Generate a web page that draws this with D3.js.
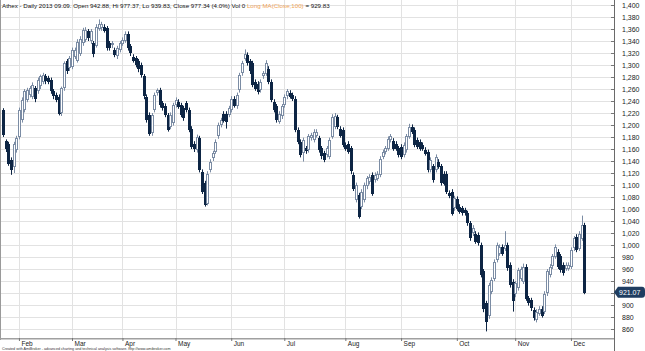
<!DOCTYPE html>
<html>
<head>
<meta charset="utf-8">
<script src="https://cdn.jsdelivr.net/npm/d3@7"></script>
<style>
  html, body { margin: 0; padding: 0; background: #fff; }
  svg { display: block; font-family: Arial, "Liberation Sans", sans-serif; }
</style>
</head>
<body>
<div id="chart"></div>
<script>
// daily candles, 24 Jan 2013 -> 9 Dec 2013
const open = [
  1225,1173,1169,1142,1131,1158,1180,1208,1225,1242,
  1250,1247,1261,1256,1264,1272,1281,1278,1275,1256,
  1250,1247,1219,1261,1306,1294,1297,1314,1308,1319,
  1336,1342,1356,1339,1336,1333,1361,1361,1364,1361,
  1336,1333,1325,1314,1325,1336,1341,1352,1331,1314,
  1311,1306,1300,1281,1247,1217,1186,1225,1253,1258,
  1236,1232,1217,1197,1203,1233,1239,1233,1228,1236,
  1225,1194,1169,1158,1178,1122,1103,1069,1125,1144,
  1156,1181,1200,1219,1219,1217,1225,1244,1231,1258,
  1286,1311,1317,1306,1303,1272,1269,1258,1281,1286,
  1294,1272,1239,1231,1206,1214,1233,1247,1254,1250,
  1244,1192,1172,1153,1161,1158,1178,1175,1183,1178,
  1161,1153,1150,1147,1181,1197,1213,1194,1192,1167,
  1169,1161,1117,1075,1083,1064,1075,1097,1105,1117,
  1108,1111,1117,1147,1155,1161,1175,1174,1169,1161,
  1164,1150,1158,1181,1197,1192,1175,1172,1167,1159,
  1155,1125,1131,1125,1139,1131,1119,1119,1087,1089,
  1061,1077,1064,1061,1058,1053,1036,1019,1019,1017,
  1000,956,903,881,922,944,975,986,997,994,
  1000,967,939,917,928,944,939,964,911,908,
  892,875,886,894,889,919,950,964,981,989,
  981,967,961,961,964,994,1014,994,1011,1034
];
const high = [
  1228,1176,1172,1146,1172,1182,1229,1246,1260,1262,
  1265,1271,1265,1279,1284,1287,1285,1282,1279,1260,
  1254,1251,1264,1306,1310,1315,1329,1329,1343,1348,
  1362,1363,1360,1360,1340,1368,1376,1372,1368,1365,
  1340,1340,1329,1332,1340,1346,1356,1356,1335,1318,
  1315,1310,1304,1285,1251,1221,1220,1254,1261,1262,
  1240,1236,1220,1221,1237,1246,1243,1237,1232,1240,
  1229,1198,1173,1184,1182,1126,1107,1123,1143,1157,
  1176,1204,1212,1223,1223,1232,1248,1248,1254,1287,
  1307,1326,1321,1310,1307,1276,1273,1276,1290,1308,
  1298,1276,1243,1235,1223,1235,1251,1260,1258,1254,
  1248,1196,1176,1179,1165,1185,1187,1193,1193,1182,
  1165,1157,1165,1179,1218,1220,1217,1198,1196,1171,
  1173,1165,1121,1104,1087,1093,1104,1115,1118,1121,
  1121,1123,1148,1159,1165,1181,1185,1178,1173,1165,
  1168,1171,1185,1202,1201,1196,1179,1176,1171,1163,
  1159,1146,1135,1151,1143,1135,1123,1123,1091,1093,
  1082,1081,1068,1065,1062,1057,1040,1033,1023,1021,
  1004,960,907,937,946,976,1004,1001,1001,1023,
  1004,971,943,940,962,964,969,968,915,912,
  896,893,898,898,923,960,968,985,1001,993,
  985,971,971,971,996,1015,1018,1023,1049,1037
];
const low = [
  1180,1155,1132,1117,1120,1154,1176,1204,1221,1238,
  1246,1243,1238,1252,1260,1268,1268,1268,1252,1243,
  1238,1216,1215,1257,1285,1290,1293,1310,1304,1315,
  1332,1338,1340,1335,1313,1329,1357,1357,1354,1324,
  1324,1328,1313,1310,1321,1332,1337,1324,1315,1304,
  1296,1288,1279,1243,1204,1182,1182,1221,1249,1229,
  1224,1213,1189,1193,1199,1229,1227,1213,1207,1221,
  1188,1160,1155,1154,1121,1085,1064,1066,1121,1140,
  1152,1177,1196,1204,1194,1213,1221,1229,1227,1254,
  1282,1307,1299,1285,1263,1257,1251,1254,1277,1282,
  1268,1238,1221,1204,1202,1210,1229,1243,1244,1240,
  1188,1168,1146,1139,1152,1154,1174,1171,1179,1154,
  1143,1138,1146,1143,1177,1193,1193,1179,1163,1157,
  1152,1118,1090,1071,1044,1060,1071,1093,1101,1082,
  1104,1107,1113,1143,1151,1157,1171,1157,1157,1146,
  1143,1146,1154,1177,1185,1163,1160,1157,1157,1149,
  1121,1121,1104,1121,1127,1099,1099,1085,1078,1049,
  1057,1057,1052,1049,1049,1032,1007,1015,1002,999,
  946,888,856,877,918,940,971,982,982,990,
  957,929,889,913,924,940,935,907,899,890,
  874,871,882,879,885,915,946,960,977,960,
  954,949,957,957,960,990,988,990,1007,918
];
const close = [
  1183,1159,1136,1125,1169,1178,1225,1242,1256,1258,
  1261,1267,1242,1275,1281,1283,1272,1272,1256,1247,
  1242,1219,1261,1303,1289,1311,1325,1325,1339,1344,
  1358,1358,1344,1356,1317,1364,1369,1368,1358,1328,
  1328,1336,1317,1328,1336,1342,1352,1328,1319,1308,
  1300,1292,1283,1247,1208,1186,1216,1250,1258,1233,
  1228,1217,1192,1217,1233,1242,1231,1217,1211,1225,
  1192,1164,1161,1180,1125,1089,1067,1119,1139,1153,
  1172,1200,1208,1208,1206,1228,1244,1233,1250,1283,
  1303,1319,1303,1289,1267,1261,1255,1272,1286,1304,
  1272,1242,1225,1208,1219,1231,1247,1256,1248,1244,
  1192,1172,1150,1175,1156,1181,1183,1189,1189,1158,
  1147,1142,1161,1175,1214,1215,1197,1183,1167,1161,
  1156,1122,1094,1100,1047,1089,1100,1111,1114,1086,
  1117,1119,1144,1155,1161,1177,1181,1161,1161,1150,
  1147,1167,1181,1197,1189,1167,1164,1161,1161,1153,
  1125,1142,1108,1147,1131,1103,1103,1089,1082,1053,
  1078,1061,1056,1053,1053,1036,1011,1028,1006,1003,
  950,892,872,933,942,972,1000,997,986,1000,
  961,933,908,936,958,960,964,911,903,894,
  878,889,894,883,919,956,964,981,997,964,
  958,953,967,967,992,1011,992,1019,1034,921.07
];

// first trading day of each month (index into the series) and its label
const monthStart = [6, 26, 45, 65, 86, 106, 129, 150, 171, 193, 214];
const monthLabels = ["Feb", "Mar", "Apr", "May", "Jun", "Jul", "Aug", "Sep", "Oct", "Nov", "Dec"];

const priceTicks = [860, 880, 900, 920, 940, 960, 980, 1000, 1020, 1040, 1060, 1080, 1100,
  1120, 1140, 1160, 1180, 1200, 1220, 1240, 1260, 1280, 1300, 1320, 1340, 1360, 1380, 1400];

const lastPrice = 921.07;
const titleText = "Athex - Daily 2013 09.09.  Open 942.88, Hi 977.37, Lo 939.83, Close 977.34 (4.0%) Vol 0 ";
const maText = "Long MA(Close,100)";
const maValue = " = 929.83";
const footerText = "Created with AmiBroker - advanced charting and technical analysis software. http://www.amibroker.com";

const width = 645, height = 351;
const plotRight = 614, plotBottom = 338;

const svg = d3.select("#chart").append("svg")
  .attr("width", width)
  .attr("height", height);

const x = d3.scaleLinear()
  .domain([0, close.length - 1])
  .range([3, 584.2]);

const y = d3.scaleLinear()
  .domain([1000, 1400])
  .range([245, 5]);

const ly = y(lastPrice);

// grid
svg.append("g")
  .selectAll("line")
  .data(priceTicks).enter().append("line")
  .attr("x1", 1).attr("x2", plotRight)
  .attr("y1", d => Math.round(y(d)) + 0.5)
  .attr("y2", d => Math.round(y(d)) + 0.5)
  .attr("stroke", "#e2e2e2");

svg.append("g")
  .selectAll("line")
  .data(monthStart).enter().append("line")
  .attr("x1", d => Math.round(x(d)) + 0.5)
  .attr("x2", d => Math.round(x(d)) + 0.5)
  .attr("y1", 0).attr("y2", plotBottom)
  .attr("stroke", "#e2e2e2");

// frame
svg.append("line")
  .attr("x1", 0.5).attr("x2", 0.5).attr("y1", 0).attr("y2", plotBottom + 2)
  .attr("stroke", "#9a9a9a");
svg.append("line")
  .attr("x1", 0).attr("x2", plotRight).attr("y1", plotBottom + 0.75).attr("y2", plotBottom + 0.75)
  .attr("stroke", "#a0a0a0").attr("stroke-width", 1.5);
svg.append("line")
  .attr("x1", plotRight + 0.5).attr("x2", plotRight + 0.5).attr("y1", 0).attr("y2", height)
  .attr("stroke", "#6a6a6a");

// y axis (right)
const yAxis = svg.append("g")
  .attr("transform", `translate(${plotRight},0)`)
  .call(d3.axisRight(y).tickValues(priceTicks).tickFormat(d3.format(",")).tickSize(-3).tickPadding(8));
yAxis.select(".domain").remove();
yAxis.selectAll(".tick line").attr("stroke", "#777");
yAxis.selectAll("text").attr("fill", "#222").style("font-size", "7px");
// the last-price marker hides the label it sits on
yAxis.selectAll(".tick").filter(d => Math.abs(y(d) - ly) < 7).select("text").remove();

// x axis (months)
const xAxis = svg.append("g")
  .attr("transform", `translate(0,${plotBottom})`)
  .call(d3.axisBottom(x).tickValues(monthStart).tickFormat((d, i) => monthLabels[i]).tickSize(3));
xAxis.select(".domain").remove();
xAxis.selectAll(".tick line").attr("stroke", "#777");
xAxis.selectAll("text")
  .attr("fill", "#222")
  .attr("text-anchor", "start")
  .attr("x", 2).attr("y", 7.6).attr("dy", 0)
  .style("font-size", "6.5px");

// candles
const upColor = "#7b8ca4", downColor = "#0d2544";
const candles = svg.append("g").selectAll("g")
  .data(close.map((c, i) => ({ i, o: open[i], h: high[i], l: low[i], c })))
  .enter().append("g");

candles.append("line")
  .attr("x1", d => Math.round(x(d.i)) + 0.5)
  .attr("x2", d => Math.round(x(d.i)) + 0.5)
  .attr("y1", d => y(d.h))
  .attr("y2", d => y(d.l))
  .attr("stroke", d => d.c >= d.o ? upColor : downColor);

candles.append("rect")
  .attr("x", d => Math.round(x(d.i)) - 0.5)
  .attr("width", 2)
  .attr("y", d => Math.round(y(Math.max(d.o, d.c))) + 0.5)
  .attr("height", d => Math.max(1, Math.round(Math.abs(y(d.o) - y(d.c))) - 1))
  .attr("fill", d => d.c >= d.o ? "#fff" : downColor)
  .attr("stroke", d => d.c >= d.o ? upColor : downColor);

// last price marker
svg.append("path")
  .attr("d", `M${plotRight},${ly} L${plotRight + 4},${ly - 5.5} H${width - 3} Q${width},${ly - 5.5} ${width},${ly - 2} V${ly + 2} Q${width},${ly + 5.5} ${width - 3},${ly + 5.5} H${plotRight + 4} Z`)
  .attr("fill", "#1f3d60");
svg.append("text")
  .attr("x", plotRight + 5).attr("y", ly + 2.5)
  .attr("fill", "#fff")
  .style("font-size", "7px")
  .text(d3.format(".2f")(lastPrice));

// header
const title = svg.append("text")
  .attr("x", 2).attr("y", 8)
  .style("font-size", "6.2px")
  .attr("fill", "#111");
title.append("tspan").text(titleText);
title.append("tspan").attr("fill", "#f0a356").text(maText);
title.append("tspan").text(maValue);

// footer
svg.append("text")
  .attr("x", 2).attr("y", 350)
  .style("font-size", "3.7px")
  .attr("fill", "#333")
  .text(footerText);
</script>
</body>
</html>
